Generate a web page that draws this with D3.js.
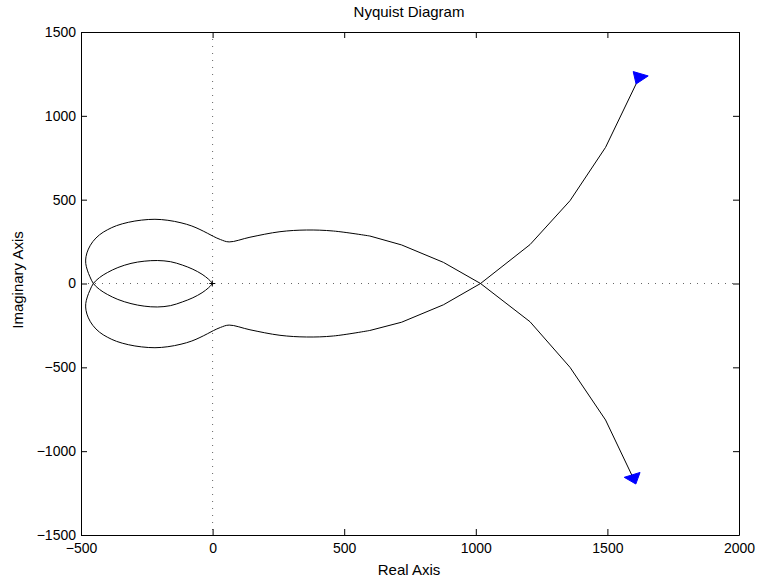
<!DOCTYPE html>
<html>
<head>
<meta charset="utf-8">
<script src="https://cdn.jsdelivr.net/npm/d3@7"></script>
<style>
  body { margin: 0; background: white; }
  text { font-family: "Liberation Sans", Arial, Helvetica, sans-serif; fill: #000; }
</style>
</head>
<body>
<div id="wrapper"></div>
<script>
// tick values
var xTicks = [-500, 0, 500, 1000, 1500, 2000];
var yTicks = [-1500, -1000, -500, 0, 500, 1000, 1500];

// branch that ends at the upper right arrow (real, imag)
// first part: coarse samples (straight segments)
var branchUpOuter = [
    [1612, 1200], [1493, 812], [1358, 494], [1206, 232], [1018, 0],
    [877, -127], [718, -231], [598, -280]
];
// second part: smooth loops down to the origin
var branchUpInner = [
    [598, -280], [459, -313], [357, -319], [256, -309], [142, -276],
    [63, -248], [30, -262], [3, -281], [-20, -300], [-48, -322],
    [-79, -343], [-120, -362], [-170, -377], [-219, -383], [-270, -378],
    [-320, -365], [-365, -345], [-400, -320], [-430, -290], [-455, -250],
    [-472, -205], [-481, -160], [-482, -120], [-476, -80], [-466, -40],
    [-453, 0], [-430, 35], [-400, 65], [-360, 95], [-310, 120],
    [-260, 133], [-210, 137], [-160, 130], [-115, 110], [-75, 85],
    [-40, 55], [-15, 25], [0, 0]
];

// branch that ends at the lower right arrow
var branchDownOuter = [
    [1605, -1183], [1493, -814], [1358, -500], [1206, -228], [1018, 0],
    [877, 126], [718, 230], [598, 283]
];
var branchDownInner = [
    [598, 283], [459, 313], [357, 319], [256, 309], [142, 276],
    [63, 248], [30, 262], [3, 281], [-20, 300], [-48, 322],
    [-79, 343], [-120, 362], [-170, 377], [-219, 383], [-270, 378],
    [-320, 365], [-365, 345], [-400, 320], [-430, 290], [-455, 250],
    [-472, 205], [-481, 160], [-482, 120], [-476, 80], [-466, 40],
    [-453, 0], [-430, -35], [-400, -65], [-360, -95], [-310, -120],
    [-260, -135], [-210, -140], [-160, -132], [-115, -110], [-75, -85],
    [-40, -55], [-15, -25], [0, 0]
];

// arrow heads (triangle corners)
var arrowUp = [[1598, 1264], [1655, 1238], [1609, 1190]];
var arrowDown = [[1564, -1156], [1624, -1127], [1608, -1196]];

var criticalPoint = [-1, 0];

const dimension = {
    width: 757,
    height: 581,
    margin: { top: 32, right: 18, bottom: 46, left: 81 }
};
dimension.boundedWidth  = dimension.width  - dimension.margin.left - dimension.margin.right;
dimension.boundedHeight = dimension.height - dimension.margin.top  - dimension.margin.bottom;

const svg = d3.select("#wrapper")
    .append("svg")
    .attr("width", dimension.width)
    .attr("height", dimension.height);

var x = d3.scaleLinear()
    .domain([-500, 2000])
    .range([dimension.margin.left, dimension.margin.left + dimension.boundedWidth]);

var y = d3.scaleLinear()
    .domain([-1500, 1500])
    .range([dimension.margin.top + dimension.boundedHeight, dimension.margin.top]);

// zero lines
svg.append("line")
    .attr("x1", x(0)).attr("x2", x(0))
    .attr("y1", y(1500)).attr("y2", y(-1500))
    .attr("stroke", "#666").attr("stroke-width", 1)
    .attr("stroke-dasharray", "1,6");
svg.append("line")
    .attr("x1", x(-500)).attr("x2", x(2000))
    .attr("y1", y(0)).attr("y2", y(0))
    .attr("stroke", "#666").attr("stroke-width", 1)
    .attr("stroke-dasharray", "1,6");

// curves
var straight = d3.line()
    .x(d => x(d[0]))
    .y(d => y(d[1]));

var smooth = d3.line()
    .x(d => x(d[0]))
    .y(d => y(d[1]))
    .curve(d3.curveCatmullRom.alpha(0.5));

svg.append("g")
    .selectAll("path.coarse")
    .data([branchUpOuter, branchDownOuter])
    .enter()
    .append("path")
    .attr("class", "coarse")
    .attr("d", straight)
    .attr("fill", "none")
    .attr("stroke", "#000")
    .attr("stroke-width", 1);

svg.append("g")
    .selectAll("path.fine")
    .data([branchUpInner, branchDownInner])
    .enter()
    .append("path")
    .attr("class", "fine")
    .attr("d", smooth)
    .attr("fill", "none")
    .attr("stroke", "#000")
    .attr("stroke-width", 1);

// arrows
svg.append("g")
    .selectAll("polygon")
    .data([arrowUp, arrowDown])
    .enter()
    .append("polygon")
    .attr("points", d => d.map(p => x(p[0]) + "," + y(p[1])).join(" "))
    .attr("fill", "#0000ff")
    .attr("stroke", "#0000ff")
    .attr("stroke-width", 1);

// critical point marker
svg.append("path")
    .attr("d", "M" + (x(criticalPoint[0]) - 3) + "," + y(criticalPoint[1]) + "h6M" +
        x(criticalPoint[0]) + "," + (y(criticalPoint[1]) - 3) + "v6")
    .attr("stroke", "#000")
    .attr("stroke-width", 1);

// axes, ticks inside on all four sides
var minus = d => d3.format("")(d).replace("-", "\u2212");

svg.append("g")
    .attr("transform", "translate(0," + y(-1500) + ")")
    .call(d3.axisBottom(x).tickValues(xTicks).tickSizeInner(-6).tickSizeOuter(0).tickPadding(8)
        .tickFormat(minus));
svg.append("g")
    .attr("transform", "translate(0," + y(1500) + ")")
    .call(d3.axisTop(x).tickValues(xTicks).tickSizeInner(-6).tickSizeOuter(0).tickFormat(""));
svg.append("g")
    .attr("transform", "translate(" + x(-500) + ",0)")
    .call(d3.axisLeft(y).tickValues(yTicks).tickSizeInner(-6).tickSizeOuter(0).tickPadding(5)
        .tickFormat(minus));
svg.append("g")
    .attr("transform", "translate(" + x(2000) + ",0)")
    .call(d3.axisRight(y).tickValues(yTicks).tickSizeInner(-6).tickSizeOuter(0).tickFormat(""));

svg.selectAll(".domain").attr("stroke", "#000").attr("stroke-width", 1);
svg.selectAll(".tick line").attr("stroke", "#000");
svg.selectAll(".tick text")
    .style("font-family", "'Liberation Sans', Arial, sans-serif")
    .style("font-size", "14px")
    .attr("fill", "#000");

// titles
svg.append("text")
    .attr("x", 409)
    .attr("y", 17)
    .attr("text-anchor", "middle")
    .style("font-size", "15px")
    .text("Nyquist Diagram");

svg.append("text")
    .attr("x", 409)
    .attr("y", 575)
    .attr("text-anchor", "middle")
    .style("font-size", "15px")
    .text("Real Axis");

svg.append("text")
    .attr("transform", "translate(23,280) rotate(-90)")
    .attr("text-anchor", "middle")
    .style("font-size", "15px")
    .text("Imaginary Axis");
</script>
</body>
</html>
